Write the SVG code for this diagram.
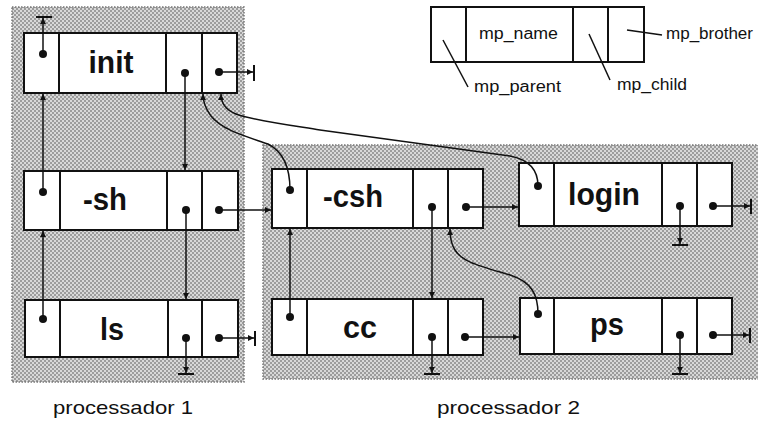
<svg xmlns="http://www.w3.org/2000/svg" width="758" height="423" viewBox="0 0 758 423">
<defs>
<pattern id="ht" width="4" height="4" patternUnits="userSpaceOnUse">
<rect width="4" height="4" fill="#d8d8d8"/>
<circle cx="1" cy="1" r="1" fill="#888"/>
<circle cx="3" cy="3" r="1" fill="#888"/>
</pattern>
<marker id="a" markerWidth="7" markerHeight="6" refX="6" refY="3" orient="auto" markerUnits="userSpaceOnUse">
<path d="M0,0 L6,3 L0,6 z" fill="#111"/>
</marker>
</defs>
<style>
.proc{fill:url(#ht);stroke:#777;stroke-width:1.5;stroke-dasharray:1.5 1.5}
.box{fill:#fff;stroke:#111;stroke-width:2}
.div{stroke:#111;stroke-width:2}
.lbl{font-family:"Liberation Sans",Arial,sans-serif;font-weight:bold;font-size:32px;fill:#111;text-anchor:middle}
.sm{font-family:"Liberation Sans",Arial,sans-serif;font-size:16px;fill:#111}
.dot{fill:#111}
.c{fill:none;stroke:#111;stroke-width:1.5}
.ca{fill:none;stroke:#111;stroke-width:1.5;marker-end:url(#a)}
.bar{stroke:#111;stroke-width:2}
</style>

<g id="processador1">
<rect class="proc" x="12" y="7" width="232" height="375"/>
<text class="sm" x="53" y="414" textLength="140" lengthAdjust="spacingAndGlyphs" style="font-size:19px">processador 1</text>
</g>
<g id="processador2">
<rect class="proc" x="263" y="145" width="500" height="234"/>
<text class="sm" x="437" y="414" textLength="143" lengthAdjust="spacingAndGlyphs" style="font-size:19px">processador 2</text>
</g>

<g id="legend">
<rect class="box" x="431" y="7" width="213" height="55"/>
<line class="div" x1="466" y1="7" x2="466" y2="62"/>
<line class="div" x1="573" y1="7" x2="573" y2="62"/>
<line class="div" x1="608" y1="7" x2="608" y2="62"/>
<text class="sm" x="479" y="39" textLength="79" lengthAdjust="spacingAndGlyphs">mp_name</text>
<line class="c" x1="627" y1="30" x2="662" y2="35"/>
<text class="sm" x="666" y="39" textLength="87" lengthAdjust="spacingAndGlyphs">mp_brother</text>
<line class="c" x1="443" y1="40" x2="468" y2="87"/>
<text class="sm" x="474" y="92" textLength="87" lengthAdjust="spacingAndGlyphs">mp_parent</text>
<line class="c" x1="589" y1="34" x2="610" y2="80"/>
<text class="sm" x="617" y="90" textLength="70" lengthAdjust="spacingAndGlyphs">mp_child</text>
</g>

<g id="init">
<rect class="box" x="24" y="33" width="213" height="60"/>
<line class="div" x1="59" y1="33" x2="59" y2="93"/>
<line class="div" x1="166" y1="33" x2="166" y2="93"/>
<line class="div" x1="202" y1="33" x2="202" y2="93"/>
<text class="lbl" x="111" y="73" textLength="45" lengthAdjust="spacingAndGlyphs">init</text>
<circle class="dot" cx="43" cy="54" r="4"/>
<circle class="dot" cx="185" cy="73" r="4"/>
<circle class="dot" cx="219" cy="72" r="4"/>
</g>

<g id="sh">
<rect class="box" x="24" y="171" width="214" height="59"/>
<line class="div" x1="60" y1="171" x2="60" y2="230"/>
<line class="div" x1="167" y1="171" x2="167" y2="230"/>
<line class="div" x1="202" y1="171" x2="202" y2="230"/>
<text class="lbl" x="105" y="210" textLength="44" lengthAdjust="spacingAndGlyphs">-sh</text>
<circle class="dot" cx="43" cy="192" r="4"/>
<circle class="dot" cx="186" cy="210" r="4"/>
<circle class="dot" cx="219" cy="210" r="4"/>
</g>

<g id="ls">
<rect class="box" x="25" y="300" width="213" height="57"/>
<line class="div" x1="60" y1="300" x2="60" y2="357"/>
<line class="div" x1="168" y1="300" x2="168" y2="357"/>
<line class="div" x1="202" y1="300" x2="202" y2="357"/>
<text class="lbl" x="112" y="340" textLength="24" lengthAdjust="spacingAndGlyphs">ls</text>
<circle class="dot" cx="43" cy="319" r="4"/>
<circle class="dot" cx="186" cy="338" r="4"/>
<circle class="dot" cx="219" cy="338" r="4"/>
</g>

<g id="csh">
<rect class="box" x="272" y="169" width="211" height="59"/>
<line class="div" x1="307" y1="169" x2="307" y2="228"/>
<line class="div" x1="413" y1="169" x2="413" y2="228"/>
<line class="div" x1="448" y1="169" x2="448" y2="228"/>
<text class="lbl" x="353" y="207" textLength="60" lengthAdjust="spacingAndGlyphs">-csh</text>
<circle class="dot" cx="290" cy="190" r="4"/>
<circle class="dot" cx="432" cy="207" r="4"/>
<circle class="dot" cx="466" cy="207" r="4"/>
</g>

<g id="cc">
<rect class="box" x="272" y="299" width="211" height="56"/>
<line class="div" x1="307" y1="299" x2="307" y2="355"/>
<line class="div" x1="413" y1="299" x2="413" y2="355"/>
<line class="div" x1="448" y1="299" x2="448" y2="355"/>
<text class="lbl" x="360" y="338" textLength="34" lengthAdjust="spacingAndGlyphs">cc</text>
<circle class="dot" cx="290" cy="317" r="4"/>
<circle class="dot" cx="432" cy="337" r="4"/>
<circle class="dot" cx="465" cy="337" r="4"/>
</g>

<g id="login">
<rect class="box" x="519" y="163" width="213" height="63"/>
<line class="div" x1="554" y1="163" x2="554" y2="226"/>
<line class="div" x1="662" y1="163" x2="662" y2="226"/>
<line class="div" x1="697" y1="163" x2="697" y2="226"/>
<text class="lbl" x="604" y="205" textLength="72" lengthAdjust="spacingAndGlyphs">login</text>
<circle class="dot" cx="538" cy="186" r="4"/>
<circle class="dot" cx="680" cy="206" r="4"/>
<circle class="dot" cx="713" cy="206" r="4"/>
</g>

<g id="ps">
<rect class="box" x="520" y="298" width="212" height="56"/>
<line class="div" x1="554" y1="298" x2="554" y2="354"/>
<line class="div" x1="662" y1="298" x2="662" y2="354"/>
<line class="div" x1="697" y1="298" x2="697" y2="354"/>
<text class="lbl" x="607" y="335" textLength="34" lengthAdjust="spacingAndGlyphs">ps</text>
<circle class="dot" cx="538" cy="314" r="4"/>
<circle class="dot" cx="680" cy="335" r="4"/>
<circle class="dot" cx="713" cy="335" r="4"/>
</g>

<g id="connectors">
<line class="ca" x1="43" y1="54" x2="43" y2="18"/>
<line class="bar" x1="36" y1="17" x2="52" y2="17"/>
<line class="ca" x1="185" y1="73" x2="185" y2="170"/>
<line class="ca" x1="219" y1="72" x2="253" y2="72"/>
<line class="bar" x1="254" y1="65" x2="254" y2="81"/>
<line class="ca" x1="43" y1="192" x2="43" y2="94"/>
<line class="ca" x1="186" y1="210" x2="186" y2="299"/>
<line class="ca" x1="219" y1="210" x2="271" y2="210"/>
<line class="ca" x1="43" y1="319" x2="43" y2="231"/>
<line class="ca" x1="186" y1="338" x2="186" y2="373"/>
<line class="bar" x1="178" y1="374" x2="194" y2="374"/>
<line class="ca" x1="219" y1="338" x2="254" y2="338"/>
<line class="bar" x1="255" y1="331" x2="255" y2="346"/>
<path class="ca" d="M290,190 C290,170 284,152 268,144 C245,136 222,130 211,116 C205,108 203,102 203,94"/>
<line class="ca" x1="432" y1="207" x2="432" y2="298"/>
<line class="ca" x1="466" y1="207" x2="518" y2="207"/>
<path class="ca" d="M538,186 C538,172 531,160 510,156 L320,130 C282,124 252,120 236,114 C226,110 221,103 221,94"/>
<line class="ca" x1="680" y1="206" x2="680" y2="244"/>
<line class="bar" x1="672" y1="245" x2="688" y2="245"/>
<line class="ca" x1="713" y1="206" x2="750" y2="206"/>
<line class="bar" x1="751" y1="199" x2="751" y2="214"/>
<line class="ca" x1="290" y1="317" x2="290" y2="229"/>
<line class="ca" x1="432" y1="337" x2="432" y2="373"/>
<line class="bar" x1="424" y1="374" x2="440" y2="374"/>
<line class="ca" x1="465" y1="337" x2="519" y2="337"/>
<path class="ca" d="M538,314 C538,295 532,282 510,275 C480,266 462,262 455,250 C451,244 450,238 450,229"/>
<line class="ca" x1="680" y1="335" x2="680" y2="373"/>
<line class="bar" x1="672" y1="374" x2="688" y2="374"/>
<line class="ca" x1="713" y1="335" x2="749" y2="335"/>
<line class="bar" x1="750" y1="328" x2="750" y2="343"/>
</g>
</svg>
